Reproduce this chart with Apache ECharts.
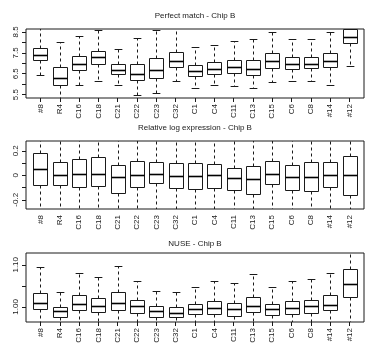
<!DOCTYPE html>
<html><head><meta charset="utf-8">
<script src="https://cdn.jsdelivr.net/npm/echarts@6/dist/echarts.min.js"></script>
<style>html,body{margin:0;padding:0;background:#fff}#c{width:382px;height:347px}</style>
</head><body><div id="c"></div>
<script>
const categories = ['#8','R4','C16','C18','C21','C22','C23','C32','C1','C4','C11','C13','C15','C6','C8','#14','#12'];

// Panel 1: Perfect match - Chip B
const pmUpper  = [8.75, 8.03, 8.31, 8.59, 7.67, 8.23, 8.61, 8.75, 7.79, 7.87, 8.07, 8.15, 8.49, 8.16, 8.16, 8.49, 8.75];
const pmQ3     = [7.74, 6.80, 7.34, 7.60, 6.99, 6.99, 7.23, 7.55, 6.94, 7.06, 7.14, 7.14, 7.47, 7.31, 7.31, 7.50, 8.66];
const pmMedian = [7.39, 6.32, 6.99, 7.28, 6.70, 6.51, 6.70, 7.12, 6.62, 6.75, 6.83, 6.75, 7.09, 6.96, 6.99, 7.10, 8.27];
const pmQ1     = [7.14, 5.98, 6.70, 6.97, 6.49, 6.19, 6.32, 6.80, 6.37, 6.51, 6.54, 6.46, 6.78, 6.75, 6.76, 6.83, 7.96];
const pmLower  = [6.42, 5.20, 5.98, 6.16, 5.95, 5.47, 5.58, 6.14, 5.84, 5.95, 5.90, 5.83, 6.09, 6.16, 6.16, 5.98, 6.88];

// Panel 2: Relative log expression - Chip B
const rleUpper  = [0.40, 0.40, 0.40, 0.40, 0.40, 0.40, 0.40, 0.40, 0.40, 0.40, 0.40, 0.40, 0.40, 0.40, 0.40, 0.40, 0.40];
const rleQ3     = [0.184, 0.112, 0.131, 0.152, 0.086, 0.120, 0.112, 0.099, 0.099, 0.093, 0.061, 0.080, 0.120, 0.086, 0.107, 0.112, 0.160];
const rleMedian = [0.051, 0.000, 0.008, 0.011, -0.013, 0.000, 0.013, -0.002, -0.002, 0.000, -0.026, -0.029, 0.013, -0.013, -0.010, 0.000, 0.000];
const rleQ1     = [-0.080, -0.080, -0.096, -0.090, -0.141, -0.093, -0.061, -0.106, -0.109, -0.101, -0.123, -0.149, -0.075, -0.117, -0.128, -0.096, -0.162];
const rleLower  = [-0.40, -0.40, -0.40, -0.40, -0.40, -0.40, -0.40, -0.40, -0.40, -0.40, -0.40, -0.40, -0.40, -0.40, -0.40, -0.40, -0.40];

// Panel 3: NUSE - Chip B
const nuseUpper  = [1.094, 1.035, 1.080, 1.072, 1.098, 1.061, 1.037, 1.035, 1.048, 1.062, 1.057, 1.078, 1.048, 1.062, 1.066, 1.080, 1.200];
const nuseQ3     = [1.033, 1.000, 1.027, 1.021, 1.035, 1.016, 1.001, 0.999, 1.007, 1.014, 1.010, 1.024, 1.007, 1.013, 1.017, 1.027, 1.090];
const nuseMedian = [1.009, 0.991, 1.007, 1.001, 1.009, 1.001, 0.991, 0.985, 0.995, 0.998, 0.995, 1.002, 0.994, 0.998, 1.001, 1.005, 1.054];
const nuseQ1     = [0.994, 0.976, 0.993, 0.988, 0.993, 0.986, 0.977, 0.975, 0.982, 0.983, 0.979, 0.988, 0.980, 0.983, 0.986, 0.993, 1.024];
const nuseLower  = [0.900, 0.900, 0.900, 0.900, 0.900, 0.900, 0.900, 0.900, 0.900, 0.900, 0.900, 0.900, 0.900, 0.900, 0.900, 0.900, 0.900];

// Tick values
const pmTicks = [5.5, 6, 6.5, 7, 7.5, 8, 8.5];
const pmTickLabels = [5.5, 6.5, 7.5, 8.5];
const rleTicks = [-0.2, -0.1, 0, 0.1, 0.2];
const rleTickLabels = [-0.2, 0, 0.2];
const nuseTicks = [1.00, 1.05, 1.10];
const nuseTickLabels = [1.00, 1.10];

const FONT = 'Liberation Sans, Arial, sans-serif';
const INK = '#1a1a1a';

const panels = [
  {title: 'Perfect match - Chip B', titleTop: 12, top: 29, height: 69, min: 5.34, max: 8.64,
   ticks: pmTicks, labels: pmTickLabels, fmt: v => v.toFixed(1),
   lower: pmLower, q1: pmQ1, median: pmMedian, q3: pmQ3, upper: pmUpper},
  {title: 'Relative log expression - Chip B', titleTop: 124, top: 141, height: 68, min: -0.275, max: 0.28,
   ticks: rleTicks, labels: rleTickLabels, fmt: v => (Math.abs(v) < 1e-9 ? '0' : String(+v.toFixed(1))),
   lower: rleLower, q1: rleQ1, median: rleMedian, q3: rleQ3, upper: rleUpper},
  {title: 'NUSE - Chip B', titleTop: 240, top: 253, height: 69, min: 0.964, max: 1.128,
   ticks: nuseTicks, labels: nuseTickLabels, fmt: v => v.toFixed(2),
   lower: nuseLower, q1: nuseQ1, median: nuseMedian, q3: nuseQ3, upper: nuseUpper}
];

const catPos = categories.map((c, i) => i + 1);

function renderBox(params, api) {
  const x = api.value(0);
  const lo = api.value(1), q1 = api.value(2), md = api.value(3), q3 = api.value(4), hi = api.value(5);
  const bw = api.size([0.8, 0])[0];
  const cw = api.size([0.4, 0])[0];
  const cx = Math.round(api.coord([x, md])[0]) + 0.5;
  const Y = v => Math.round(api.coord([x, v])[1]) + 0.5;
  const yLo = Y(lo), yQ1 = Y(q1), yMd = Y(md), yQ3 = Y(q3), yHi = Y(hi);
  const L = Math.round(cx - bw / 2) + 0.5, R = Math.round(cx + bw / 2) - 0.5;
  const dash = {stroke: INK, lineWidth: 1, lineDash: [3, 3]};
  const solid = {stroke: INK, lineWidth: 1};
  return {
    type: 'group',
    children: [
      {type: 'line', shape: {x1: cx, y1: yQ3, x2: cx, y2: yHi}, style: dash},
      {type: 'line', shape: {x1: cx, y1: yQ1, x2: cx, y2: yLo}, style: dash},
      {type: 'line', shape: {x1: cx - cw / 2, y1: yHi, x2: cx + cw / 2, y2: yHi}, style: solid},
      {type: 'line', shape: {x1: cx - cw / 2, y1: yLo, x2: cx + cw / 2, y2: yLo}, style: solid},
      {type: 'rect', shape: {x: L, y: yQ3, width: R - L, height: yQ1 - yQ3}, style: {fill: '#fff', stroke: INK, lineWidth: 1}},
      {type: 'line', shape: {x1: L, y1: yMd, x2: R, y2: yMd}, style: {stroke: '#000', lineWidth: 1.6}}
    ]
  };
}

const option = {
  animation: false,
  backgroundColor: '#fff',
  title: panels.map(p => ({
    text: p.title, left: 195, top: p.titleTop, textAlign: 'center', padding: 0,
    textStyle: {fontSize: 8, fontWeight: 'normal', color: INK, fontFamily: FONT}
  })),
  grid: panels.map(p => ({left: 26, right: 18, top: p.top, height: p.height, show: true,
    borderColor: INK, borderWidth: 1, backgroundColor: 'transparent'})),
  xAxis: panels.map((p, i) => ({
    gridIndex: i, type: 'value', min: 0.25, max: 17.75,
    axisLine: {show: false}, splitLine: {show: false},
    axisTick: {show: true, customValues: catPos, length: 4, lineStyle: {color: INK}},
    axisLabel: {customValues: catPos, rotate: 90, margin: 6, fontSize: 8, color: INK, fontFamily: FONT,
      formatter: v => categories[Math.round(v) - 1]}
  })),
  yAxis: panels.map((p, i) => ({
    gridIndex: i, type: 'value', min: p.min, max: p.max,
    axisLine: {show: false}, splitLine: {show: false},
    axisTick: {show: true, customValues: p.ticks, length: 4, lineStyle: {color: INK}},
    axisLabel: {customValues: p.labels, rotate: 90, margin: 6, fontSize: 8, color: INK, fontFamily: FONT,
      formatter: p.fmt}
  })),
  series: panels.map((p, i) => ({
    type: 'custom', xAxisIndex: i, yAxisIndex: i, clip: true,
    renderItem: renderBox,
    data: categories.map((c, k) => [k + 1, p.lower[k], p.q1[k], p.median[k], p.q3[k], p.upper[k]])
  }))
};

const chart = echarts.init(document.getElementById('c'), null, {renderer: 'canvas'});
chart.setOption(option);
</script>
</body></html>
